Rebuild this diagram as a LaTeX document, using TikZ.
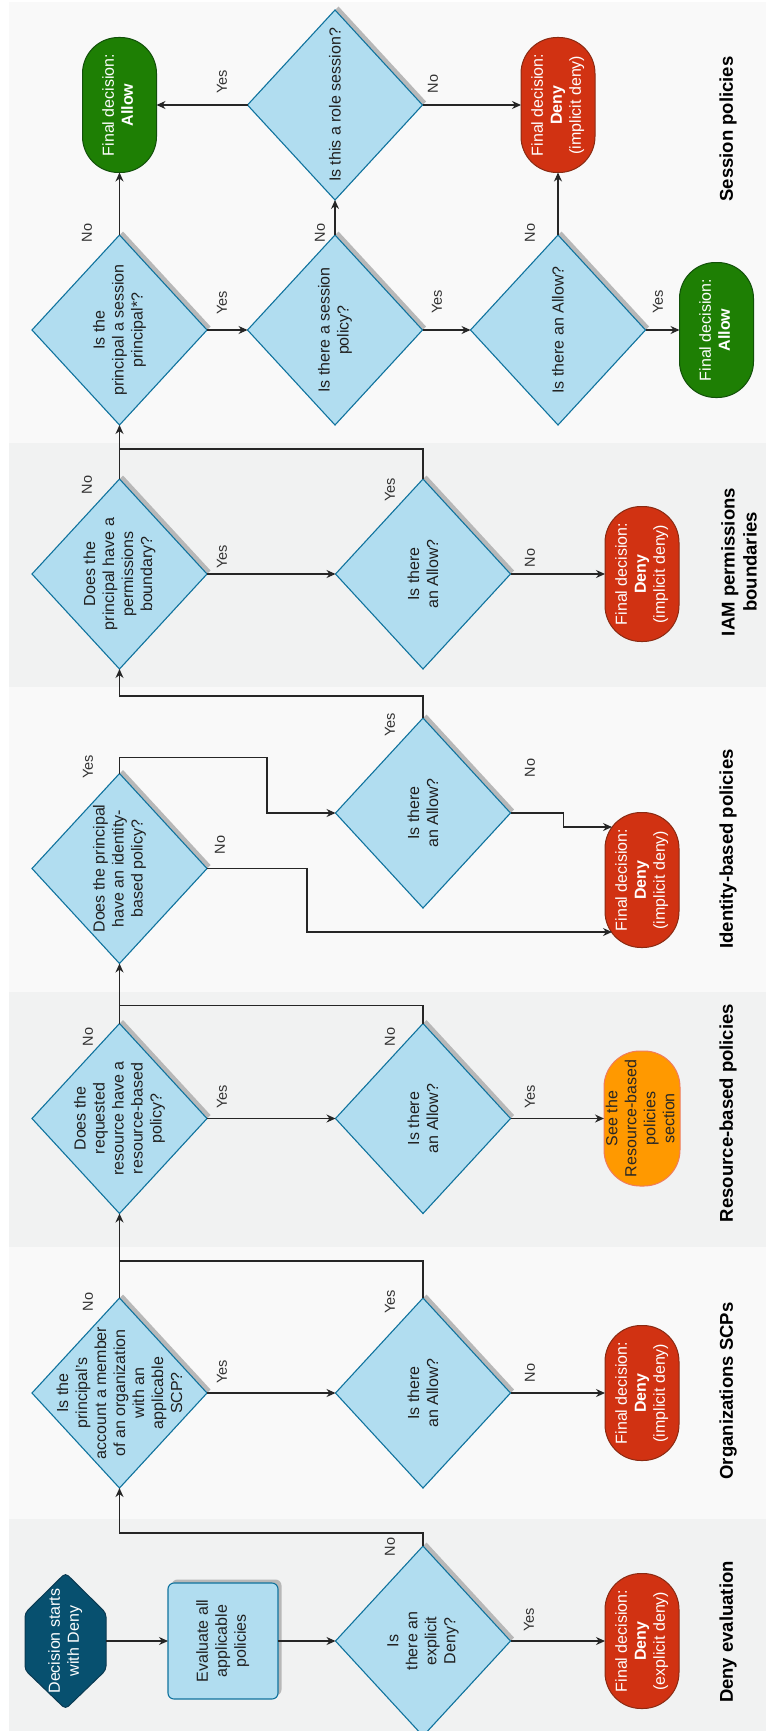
\documentclass[tikz,border=0pt]{standalone}
\usepackage{fontspec}
\setmainfont{Liberation Sans}
\usepackage{graphicx}
\usetikzlibrary{arrows.meta,shapes.geometric,shadows}

\definecolor{bandA}{HTML}{F9F9F9}
\definecolor{bandB}{HTML}{F1F2F2}
\definecolor{qfill}{HTML}{B1DDF0}
\definecolor{qline}{HTML}{10739E}
\definecolor{denyfill}{HTML}{D13212}
\definecolor{denyline}{HTML}{8A2A12}
\definecolor{allowfill}{HTML}{1E7F04}
\definecolor{allowline}{HTML}{12500A}
\definecolor{seefill}{HTML}{FF9900}
\definecolor{seeline}{HTML}{F07C5C}
\definecolor{startfill}{HTML}{07506F}
\definecolor{startline}{HTML}{0A3A52}
\definecolor{ink}{HTML}{333333}

\newcommand{\diafont}{\fontsize{16}{19}\selectfont}
\newcommand{\lblfont}{\fontsize{14.5}{17}\selectfont}
\newcommand{\ttlfont}{\fontsize{18.5}{22}\selectfont\bfseries}
% text set upright in a box turned a quarter turn
\newcommand{\vt}[1]{\rotatebox{90}{\begin{tabular}{@{}c@{}}#1\end{tabular}}}

\tikzset{
  shade3/.style={drop shadow={shadow xshift=3.5pt,shadow yshift=3.5pt,fill=black!28,opacity=1}},
  decision/.style={diamond, draw=qline, fill=qfill, line width=1.1pt,
    minimum width=175pt, minimum height=190pt, inner sep=0pt, outer sep=0pt, shade3},
  qtext/.style={rotate=90, align=center, font=\diafont, text=black!88, inner sep=0pt},
  final/.style={rectangle, rounded corners=36pt, minimum width=74pt, minimum height=135pt,
    inner sep=0pt, outer sep=0pt, line width=1pt, font=\diafont, text=white},
  deny/.style={final, fill=denyfill, draw=denyline},
  allow/.style={final, fill=allowfill, draw=allowline},
  see/.style={final, fill=seefill, draw=seeline, text=black!85},
  lbl/.style={rotate=90, font=\lblfont, text=ink, inner sep=0pt},
  title/.style={rotate=90, font=\ttlfont, align=center, inner sep=0pt, text=black},
  flow/.style={draw=black!85, line width=1.2pt, -{Stealth[length=9pt,width=8pt]}},
  merge/.style={draw=black!85, line width=1.2pt},
}

\begin{document}
\begin{tikzpicture}[x=1pt,y=-1pt]
\useasboundingbox (0,0) rectangle (766,1731);

% section bands
\fill[white] (0,0) rectangle (766,1731);
\fill[bandA] (9,2) rectangle (766,443);
\fill[bandB] (9,443) rectangle (766,687);
\fill[bandA] (9,687) rectangle (766,992);
\fill[bandB] (9,992) rectangle (766,1247);
\fill[bandA] (9,1247) rectangle (766,1519);
\fill[bandB] (9,1519) rectangle (766,1731);

% ---------- Deny evaluation ----------
\filldraw[fill=startfill, draw=startline, line width=1pt, rounded corners=4pt]
  (65.5,1573) -- (106,1613) -- (106,1670) -- (65.5,1709) -- (25,1670) -- (25,1613) -- cycle;
\node[minimum width=81pt, minimum height=136pt, inner sep=0pt, font=\diafont, text=white]
  (start) at (65.5,1641) {\vt{Decision starts\\with Deny}};
\node[draw=qline, fill=qfill, rounded corners=6pt, minimum width=110pt, minimum height=116pt,
  inner sep=0pt, outer sep=0pt, line width=1.1pt, shade3, font=\diafont, text=black!88]
  (eval) at (223,1641) {\vt{Evaluate all\\applicable\\policies}};
\node[decision] (qdeny) at (423,1641) {};
\node[qtext] (qdeny-t) at (qdeny) {Is\\there an\\explicit\\Deny?};
\node[deny] (tdeny) at (642,1641) {\vt{Final decision:\\\textbf{Deny}\\(explicit deny)}};
\node[title] (h-deny) at (728,1632) {Deny evaluation};

% ---------- Organizations SCPs ----------
\node[decision] (qorg) at (119.5,1393) {};
\node[qtext] (qorg-t) at (qorg) {Is the\\principal's\\account a member\\of an organization\\with an\\applicable\\SCP?};
\node[decision] (aorg) at (423,1393) {};
\node[qtext] (aorg-t) at (aorg) {Is there\\an Allow?};
\node[deny] (torg) at (642,1393) {\vt{Final decision:\\\textbf{Deny}\\(implicit deny)}};
\node[title] (h-org) at (728,1391) {Organizations SCPs};

% ---------- Resource-based policies ----------
\node[decision] (qres) at (119.5,1118.5) {};
\node[qtext] (qres-t) at (qres) {Does the\\requested\\resource have a\\resource-based\\policy?};
\node[decision] (ares) at (423,1118.5) {};
\node[qtext] (ares-t) at (ares) {Is there\\an Allow?};
\node[see] (tres) at (642,1118.5) {\vt{See the\\Resource-based\\policies\\section}};
\node[title] (h-res) at (728,1113) {Resource-based policies};

% ---------- Identity-based policies ----------
\node[decision] (qid) at (119.5,868.5) {};
\node[qtext] (qid-t) at (qid) {Does the principal\\have an identity-\\based policy?};
\node[decision] (aid) at (423,813) {};
\node[qtext] (aid-t) at (aid) {Is there\\an Allow?};
\node[deny] (tid) at (642,880) {\vt{Final decision:\\\textbf{Deny}\\(implicit deny)}};
\node[title] (h-id) at (728,849) {Identity-based policies};

% ---------- IAM permissions boundaries ----------
\node[decision] (qiam) at (119.5,574) {};
\node[qtext] (qiam-t) at (qiam) {Does the\\principal have a\\permissions\\boundary?};
\node[decision] (aiam) at (423,574) {};
\node[qtext] (aiam-t) at (aiam) {Is there\\an Allow?};
\node[deny] (tiam) at (642,574) {\vt{Final decision:\\\textbf{Deny}\\(implicit deny)}};
\node[title] (h-iam) at (739,562) {IAM permissions\\boundaries};

% ---------- Session policies ----------
\node[decision] (qses) at (119.5,330) {};
\node[qtext] (qses-t) at (qses) {Is the\\principal a session\\principal*?};
\node[decision] (qsp) at (335,330) {};
\node[qtext] (qsp-t) at (qsp) {Is there a session\\policy?};
\node[decision] (qrole) at (335,105) {};
\node[qtext] (qrole-t) at (qrole) {Is this a role session?};
\node[decision] (asp) at (558,330) {};
\node[qtext] (asp-t) at (asp) {Is there an Allow?};
\node[allow] (tallow1) at (119.5,105) {\vt{Final decision:\\\textbf{Allow}}};
\node[deny] (tdenys) at (558,105) {\vt{Final decision:\\\textbf{Deny}\\(implicit deny)}};
\node[allow] (tallow2) at (716.5,330) {\vt{Final decision:\\\textbf{Allow}}};
\node[title] (h-ses) at (728,129) {Session policies};

% ---------- connectors ----------
\draw[flow] (start) -- (eval);
\draw[flow] (eval) -- (qdeny.west);
\draw[flow] (qdeny.east) -- (tdeny);
\draw[flow] (qdeny.north) -- ++(0,-13) -| (qorg.south);

\draw[flow] (qorg.east) -- (aorg.west);
\draw[flow] (aorg.east) -- (torg);
\draw[merge] (aorg.north) -- ++(0,-37) -| (qorg.north);
\draw[flow] (qorg.north) -- (qres.south);

\draw[flow] (qres.east) -- (ares.west);
\draw[flow] (ares.east) -- (tres);
\draw[merge] (ares.north) -- ++(0,-18) -| (qres.north);
\draw[flow] (qres.north) -- (qid.south);

\draw[flow] (qid.north) -- ++(0,-16) -- ++(147.5,0) |- (aid.west);
\draw[flow] (qid.east) -- ++(100,0) |- ([shift={(7,52)}]tid.west);
\draw[flow] (aid.east) -- ++(53,0) |- ([shift={(7,-53)}]tid.west);
\draw[flow] (aid.north) -- ++(0,-22) -| (qiam.south);

\draw[flow] (qiam.east) -- (aiam.west);
\draw[flow] (aiam.east) -- (tiam);
\draw[merge] (aiam.north) -- ++(0,-30) -| (qiam.north);
\draw[flow] (qiam.north) -- (qses.south);

\draw[flow] (qses.north) -- (tallow1);
\draw[flow] (qses.east) -- (qsp.west);
\draw[flow] (qsp.north) -- (qrole.south);
\draw[flow] (qrole.west) -- (tallow1);
\draw[flow] (qrole.east) -- (tdenys);
\draw[flow] (qsp.east) -- (asp.west);
\draw[flow] (asp.north) -- (tdenys);
\draw[flow] (asp.east) -- (tallow2);

% ---------- branch labels ----------
\node[lbl] (lb1) at (390,1547) {No};
\node[lbl] (lb2) at (529,1620) {Yes};
\node[lbl] (lb3) at (222,1372) {Yes};
\node[lbl] (lb4) at (88,1302) {No};
\node[lbl] (lb5) at (390,1302) {Yes};
\node[lbl] (lb6) at (530,1373) {No};
\node[lbl] (lb7) at (88,1037) {No};
\node[lbl] (lb8) at (222,1097) {Yes};
\node[lbl] (lb9) at (390,1037) {No};
\node[lbl] (lb10) at (530,1097) {Yes};
\node[lbl] (lb11) at (88,767) {Yes};
\node[lbl] (lb12) at (220,845) {No};
\node[lbl] (lb13) at (390,725) {Yes};
\node[lbl] (lb14) at (530,768) {No};
\node[lbl] (lb15) at (87,485) {No};
\node[lbl] (lb16) at (222,557) {Yes};
\node[lbl] (lb17) at (390,490) {Yes};
\node[lbl] (lb18) at (530,558) {No};
\node[lbl] (lb19) at (87,233) {No};
\node[lbl] (lb20) at (222,303) {Yes};
\node[lbl] (lb21) at (320,233) {No};
\node[lbl] (lb22) at (222,82) {Yes};
\node[lbl] (lb23) at (433,84) {No};
\node[lbl] (lb24) at (437,302) {Yes};
\node[lbl] (lb25) at (530,233) {No};
\node[lbl] (lb26) at (658,302) {Yes};
\end{tikzpicture}
\end{document}
